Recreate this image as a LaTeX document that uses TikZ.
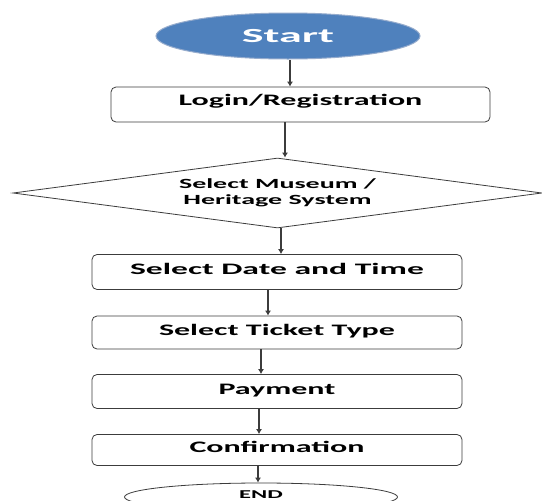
\documentclass[tikz,border=0pt]{standalone}
\usepackage{fontspec}
\setmainfont{Carlito}
\usetikzlibrary{shapes.geometric,arrows.meta}
\definecolor{startblue}{RGB}{79,129,189}
\definecolor{startedge}{RGB}{150,172,205}
\definecolor{linegray}{RGB}{60,60,60}
\newcommand{\wtext}[2][2]{\scalebox{#1}[1]{#2}}
\begin{document}
\begin{tikzpicture}[x=1pt,y=-1pt,
  procbox/.style={draw=linegray, line width=0.8pt, rounded corners=5pt,
    minimum width=370pt, minimum height=35pt, inner sep=0pt,
    text height=11pt, text depth=6pt,
    font=\bfseries\fontsize{16}{18}\selectfont},
  arr/.style={draw=linegray, line width=1.5pt, -{Latex[length=5pt,width=6pt]}},
]
\clip (0,0) rectangle (542,501);
\fill[white] (0,0) rectangle (542,501);

\node[ellipse, fill=startblue, draw=startedge, line width=1pt,
      minimum width=264pt, minimum height=46pt, inner sep=0pt,
      text=white, font=\bfseries\fontsize{20}{22}\selectfont]
  (start) at (288,36) {\wtext[2.3]{Start}};

\node[procbox, minimum width=379pt, text depth=9pt] (login) at (300.5,104.5) {\wtext{Login/Registration}};

\node[diamond, aspect=7.5, draw=linegray, line width=0.8pt, inner sep=0pt,
      minimum width=529pt, minimum height=70pt, align=center,
      font=\bfseries\fontsize{14}{16}\selectfont]
  (dia) at (277.5,193) {\wtext[2.0]{Select Museum /}\\\wtext[2.0]{Heritage System}};

\node[procbox] (date) at (277,272) {\wtext[2.1]{Select Date and Time}};
\node[procbox, minimum height=33pt] (ticket) at (277,332.5) {\wtext{Select Ticket Type}};
\node[procbox, minimum height=34pt] (pay) at (277,391.5) {\wtext{Payment}};
\node[procbox, minimum height=31pt] (conf) at (277,450) {\wtext{Confirmation}};

\node[ellipse, draw=linegray, line width=0.8pt, minimum width=273pt,
      minimum height=28pt, inner sep=0pt, text height=8pt, text depth=6pt,
      font=\bfseries\fontsize{12}{14}\selectfont]
  (end) at (261,497) {\wtext[2.05]{END}};

\coordinate (c1) at (290,0);
\coordinate (c2) at (285,0);
\coordinate (c3) at (281,0);
\coordinate (c4) at (268,0);
\coordinate (c5) at (261,0);
\coordinate (c6) at (259,0);
\coordinate (c7) at (258,0);

\draw[arr] (start.south -| c1) -- (login.north -| c1);
\draw[arr] (login.south -| c2) -- (dia.north -| c2);
\draw[arr] (dia.south -| c3) -- (date.north -| c3);
\draw[arr] (date.south -| c4) -- (ticket.north -| c4);
\draw[arr] (ticket.south -| c5) -- (pay.north -| c5);
\draw[arr] (pay.south -| c6) -- (conf.north -| c6);
\draw[arr] (conf.south -| c7) -- (end.north -| c7);
\end{tikzpicture}
\end{document}
